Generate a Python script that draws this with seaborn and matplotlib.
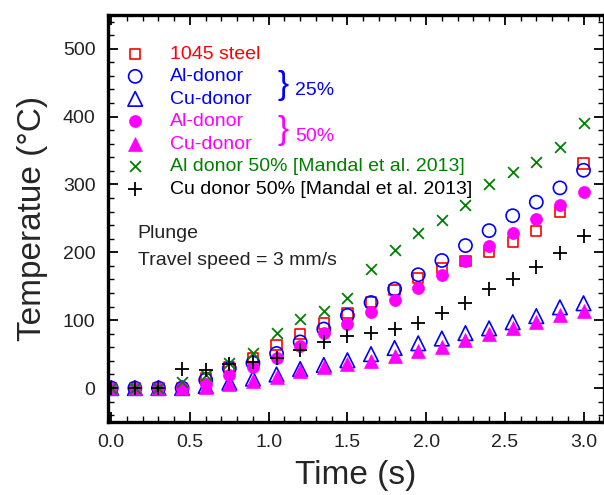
import numpy as np
import matplotlib
matplotlib.use('Agg')
import matplotlib.pyplot as plt
from matplotlib.ticker import MultipleLocator
import seaborn as sns

# Temperature vs time
time = [0.0, 0.15, 0.3, 0.45, 0.6, 0.75, 0.9, 1.05, 1.2, 1.35, 1.5,
        1.65, 1.8, 1.95, 2.1, 2.25, 2.4, 2.55, 2.7, 2.85, 3.0]
steel_1045 = [0, 0, 0, 0, 14, 31, 44, 63, 80, 95, 111,
              127, 145, 162, 177, 187, 200, 215, 231, 259, 331]
al_donor_25 = [0, 0, 0, 0, 12, 29, 37, 51, 68, 87, 107,
               126, 146, 167, 188, 210, 232, 254, 274, 295, 321]
cu_donor_25 = [0, 0, 0, 0, 3, 8, 14, 20, 28, 34, 41,
               50, 59, 66, 73, 81, 88, 97, 106, 119, 125]
al_donor_50 = [0, 0, 0, 0, 6, 19, 31, 44, 62, 81, 95,
               112, 130, 147, 166, 187, 209, 228, 249, 270, 289]
cu_donor_50 = [0, 0, 0, 0, 1, 6, 11, 17, 25, 31, 36,
               40, 47, 54, 60, 71, 79, 88, 98, 108, 114]
mandal_al = [0, 0, 0, 9, 19, 37, 51, 81, 102, 113, 133,
             175, 203, 228, 247, 270, 300, 318, 333, 355, 391]
mandal_cu = [0, 0, 0, 28, 27, 35, 39, 45, 56, 68, 76,
             81, 87, 96, 110, 126, 146, 161, 179, 199, 224]

labels = ['1045 steel', 'Al-donor', 'Cu-donor', 'Al-donor', 'Cu-donor',
          'Al donor 50% [Mandal et al. 2013]', 'Cu donor 50% [Mandal et al. 2013]']
label_colors = ['red', 'blue', 'blue', 'magenta', 'magenta', 'green', 'black']

sns.set_style('ticks')
plt.rcParams['font.family'] = ['Liberation Sans', 'DejaVu Sans']

fig = plt.figure(figsize=(6.04, 4.95), dpi=100)
ax = fig.add_axes([0.179, 0.1475, 0.821, 0.8225])

# hollow markers
sns.scatterplot(x=time, y=steel_1045, marker='s', s=55, facecolor='none',
                edgecolor='red', linewidth=1.2, label=labels[0], ax=ax)
sns.scatterplot(x=time, y=al_donor_25, marker='o', s=90, facecolor='none',
                edgecolor='blue', linewidth=1.2, label=labels[1], ax=ax)
sns.scatterplot(x=time, y=cu_donor_25, marker='^', s=110, facecolor='none',
                edgecolor='blue', linewidth=1.2, label=labels[2], ax=ax)
# filled markers
sns.scatterplot(x=time, y=al_donor_50, marker='o', s=75, color='magenta',
                edgecolor='magenta', linewidth=0.5, label=labels[3], ax=ax)
sns.scatterplot(x=time, y=cu_donor_50, marker='^', s=100, color='magenta',
                edgecolor='magenta', linewidth=0.5, label=labels[4], ax=ax)
# line markers
sns.scatterplot(x=time, y=mandal_al, marker='x', s=60, color='green',
                edgecolor=None, linewidth=1.3, label=labels[5], ax=ax)
sns.scatterplot(x=time, y=mandal_cu, marker='+', s=110, color='black',
                edgecolor=None, linewidth=1.3, label=labels[6], ax=ax)

ax.set_xlim(-0.02, 3.13)
ax.set_ylim(-50, 550)
ax.xaxis.set_major_locator(MultipleLocator(0.5))
ax.xaxis.set_minor_locator(MultipleLocator(0.1))
ax.yaxis.set_major_locator(MultipleLocator(100))
ax.yaxis.set_minor_locator(MultipleLocator(20))
ax.xaxis.set_major_formatter(matplotlib.ticker.FormatStrFormatter('%.1f'))

ax.tick_params(which='both', direction='in', top=True, right=True,
               labelsize=14, colors='black', labelcolor='#222222')
ax.tick_params(which='major', length=7, width=1.3)
ax.tick_params(axis='x', which='major', pad=9)
ax.tick_params(axis='y', which='major', pad=9)
ax.tick_params(which='minor', length=4, width=1.0)
for sp in ax.spines.values():
    sp.set_linewidth(2.4)
    sp.set_color('black')

ax.set_xlabel('Time (s)', fontsize=24, labelpad=6)
ax.set_ylabel('Temperatue (°C)', fontsize=24, labelpad=11)

leg = ax.legend(loc='upper left', bbox_to_anchor=(0.035, 0.925), frameon=False,
                labelcolor=label_colors, scatterpoints=1, handlelength=1.0,
                handletextpad=1.3, labelspacing=0.25, borderpad=0,
                borderaxespad=0, fontsize=14)

# group braces
ax.text(0.353, 0.827, '}', color='blue', fontsize=24, ha='center', va='center',
        transform=ax.transAxes)
ax.text(0.377, 0.815, '25%', color='blue', fontsize=14, ha='left', va='center',
        transform=ax.transAxes)
ax.text(0.353, 0.716, '}', color='magenta', fontsize=24, ha='center', va='center',
        transform=ax.transAxes)
ax.text(0.377, 0.702, '50%', color='magenta', fontsize=14, ha='left', va='center',
        transform=ax.transAxes)

ax.text(0.060, 0.452, 'Plunge', fontsize=14, color='#222222',
        va='baseline', transform=ax.transAxes)
ax.text(0.060, 0.386, 'Travel speed = 3 mm/s', fontsize=14, color='#222222',
        va='baseline', transform=ax.transAxes)

fig.savefig('out.png', dpi=100)
